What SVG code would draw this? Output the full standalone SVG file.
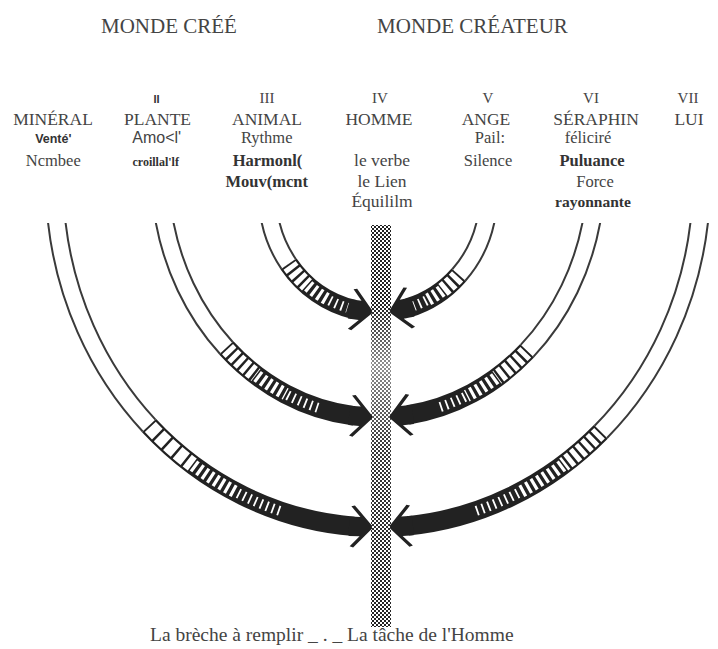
<svg xmlns="http://www.w3.org/2000/svg" xmlns:xlink="http://www.w3.org/1999/xlink" width="718" height="649" viewBox="0 0 718 649">
<style>
.t{font-family:"Liberation Serif","Times New Roman",serif;fill:#444;text-anchor:middle}
.s{font-family:"Liberation Sans",Arial,sans-serif;fill:#333;text-anchor:middle}
.h1{font-size:21px}
.num{font-size:15px}
.nm{font-size:17.5px}
.sm{font-size:16.5px}
.b{font-weight:bold;fill:#333}
.ln{fill:none;stroke:#3a3a3a;stroke-width:19.4}
.lw{fill:none;stroke:#fff;stroke-width:15.4}
.bd{fill:none;stroke:#222;stroke-width:19.4}
.sa{fill:none;stroke:#fff;stroke-width:15;stroke-dasharray:0 1.8 5 0.7}
.sg{fill:none;stroke:#fff;stroke-width:15;stroke-dasharray:0 1.8 10 0.7}
.sb{fill:none;stroke:#fff;stroke-width:12.5;stroke-dasharray:0 1.5 3.2 1.8}
.sc{fill:none;stroke:#fff;stroke-width:10;stroke-dasharray:0 2.2 1.8 2.2}
.hd{fill:#222}
</style>
<defs>
<pattern id="chk" width="4" height="4" patternUnits="userSpaceOnUse">
<rect width="4" height="4" fill="#fff"/>
<rect width="2" height="2" fill="#222"/>
<rect x="2" y="2" width="2" height="2" fill="#222"/>
</pattern>
<linearGradient id="lite" x1="0" y1="0" x2="0" y2="1">
<stop offset="0" stop-color="#fff" stop-opacity="0"/>
<stop offset="0.2" stop-color="#fff" stop-opacity="0"/>
<stop offset="0.35" stop-color="#fff" stop-opacity="0.5"/>
<stop offset="0.55" stop-color="#fff" stop-opacity="0.1"/>
<stop offset="1" stop-color="#fff" stop-opacity="0"/>
</linearGradient>
<clipPath id="top"><rect x="0" y="223" width="718" height="426"/></clipPath>
<path id="head" d="M0,-1.5 L-18,-21 L-21.5,-20 L-12,-9.7 L-23,-9.7 L-23,9.7 L-12,9.7 L-21.5,20 L-18,21 L0,1.5 Z"/>
<path id="iLt" d="M269.1,215 A110.5,117.3 0 0 0 288.6,263.9"/>
<path id="iRt" d="M486.9,215 A110.5,117.3 0 0 1 458.8,275.0"/>
<path id="mLt" d="M163.3,215 A218.4,247.3 0 0 0 226.3,347.9"/>
<path id="mRt" d="M592.7,215 A218.4,247.3 0 0 1 527.0,350.9"/>
<path id="oLt" d="M56.0,215 A323.7,347.3 0 0 0 149.1,425.6"/>
<path id="oRt" d="M700.0,215 A323.7,347.3 0 0 1 600.8,431.9"/>
</defs>
<rect width="718" height="649" fill="#fff"/>

<g id="titles">
<text class="t h1" x="169" y="33">MONDE CRÉÉ</text>
<text class="t h1" x="472.5" y="33">MONDE CRÉATEUR</text>
</g>

<g id="n1">
<text class="t nm" x="53" y="125">MINÉRAL</text>
<text class="s b" x="53.3" y="143" style="font-size:12.5px">Venté'</text>
<text class="t sm" x="53.3" y="166">Ncmbee</text>
</g>
<g id="n2">
<text class="s b" x="156.5" y="103" style="font-size:11px">II</text>
<text class="t nm" x="157.5" y="125">PLANTE</text>
<text class="s" x="156.7" y="143" style="font-size:16px;fill:#444">Amo&lt;l'</text>
<text class="t b" x="155.7" y="166" style="font-size:12px">croillal'lf</text>
</g>
<g id="n3">
<text class="t num" x="267" y="103">III</text>
<text class="t nm" x="267" y="125">ANIMAL</text>
<text class="t sm" x="266.7" y="143">Rythme</text>
<text class="t sm b" x="267.5" y="166">Harmonl(</text>
<text class="t sm b" x="266.7" y="186.5">Mouv(mcnt</text>
</g>
<g id="n4">
<text class="t num" x="380" y="103">IV</text>
<text class="t nm" x="379" y="125">HOMME</text>
<text class="t nm" x="382" y="166">le verbe</text>
<text class="t nm" x="382" y="186.5">le Lien</text>
<text class="t nm" x="382" y="206.5">Équililm</text>
</g>
<g id="n5">
<text class="t num" x="488" y="103">V</text>
<text class="t nm" x="486" y="125">ANGE</text>
<text class="t sm" x="490" y="143">Pail:</text>
<text class="t sm" x="488" y="166">Silence</text>
</g>
<g id="n6">
<text class="t num" x="591" y="103">VI</text>
<text class="t nm" x="596" y="125">SÉRAPHIN</text>
<text class="t sm" x="588" y="143">féliciré</text>
<text class="t sm b" x="592" y="166">Puluance</text>
<text class="t sm" x="595" y="186.5">Force</text>
<text class="t b" x="593" y="206.5" style="font-size:15.5px">rayonnante</text>
</g>
<g id="n7">
<text class="t num" x="688" y="103">VII</text>
<text class="t nm" x="689" y="125">LUI</text>
</g>

<g id="column">
<rect x="371" y="225" width="20" height="402" fill="url(#chk)"/>
<rect x="371" y="225" width="20" height="402" fill="url(#lite)"/>
</g>

<g id="connectors" clip-path="url(#top)">
<g id="inner-left">
<use xlink:href="#iLt" class="ln"/><use xlink:href="#iLt" class="lw"/>
<path class="bd" d="M288.6,263.9 A110.5,117.3 0 0 0 354.1,309.5"/>
<path class="sa" d="M288.6,263.9 A110.5,117.3 0 0 0 307.0,284.9"/>
<path class="sb" d="M307.0,284.9 A110.5,117.3 0 0 0 327.8,299.5"/>
<path class="sc" d="M327.8,299.5 A110.5,117.3 0 0 0 347.5,307.8"/>
<use xlink:href="#head" class="hd" transform="translate(372,312.1) rotate(8.2)"/>
</g>
<g id="inner-right">
<use xlink:href="#iRt" class="ln"/><use xlink:href="#iRt" class="lw"/>
<path class="bd" d="M458.8,275.0 A110.5,117.3 0 0 1 408.1,307.9"/>
<path class="sa" d="M458.8,275.0 A110.5,117.3 0 0 1 443.0,289.9"/>
<path class="sb" d="M443.0,289.9 A110.5,117.3 0 0 1 428.2,299.5"/>
<path class="sc" d="M428.2,299.5 A110.5,117.3 0 0 1 414.0,305.9"/>
<use xlink:href="#head" class="hd" transform="translate(390,311.6) scale(-1,1) rotate(11.6)"/>
</g>
<g id="middle-left">
<use xlink:href="#mLt" class="ln"/><use xlink:href="#mLt" class="lw"/>
<path class="bd" d="M226.3,347.9 A218.4,247.3 0 0 0 354.0,415.8"/>
<path class="sa" d="M226.3,347.9 A218.4,247.3 0 0 0 255.9,375.0"/>
<path class="sb" d="M255.9,375.0 A218.4,247.3 0 0 0 285.7,394.1"/>
<path class="sc" d="M285.7,394.1 A218.4,247.3 0 0 0 317.8,407.7"/>
<use xlink:href="#head" class="hd" transform="translate(372,417.2) rotate(4.4)"/>
</g>
<g id="middle-right">
<use xlink:href="#mRt" class="ln"/><use xlink:href="#mRt" class="lw"/>
<path class="bd" d="M527.0,350.9 A218.4,247.3 0 0 1 408.0,414.9"/>
<path class="sa" d="M527.0,350.9 A218.4,247.3 0 0 1 496.9,377.4"/>
<path class="sb" d="M496.9,377.4 A218.4,247.3 0 0 1 466.8,395.9"/>
<path class="sc" d="M466.8,395.9 A218.4,247.3 0 0 1 438.2,407.7"/>
<use xlink:href="#head" class="hd" transform="translate(390,416.9) scale(-1,1) rotate(6.3)"/>
</g>
<g id="outer-left">
<use xlink:href="#oLt" class="ln"/><use xlink:href="#oLt" class="lw"/>
<path class="bd" d="M149.1,425.6 A323.7,347.3 0 0 0 354.0,526.3"/>
<path class="sg" d="M149.1,425.6 A323.7,347.3 0 0 0 192.3,464.5"/>
<path class="sb" d="M192.3,464.5 A323.7,347.3 0 0 0 236.1,492.2"/>
<path class="sc" d="M236.1,492.2 A323.7,347.3 0 0 0 283.3,512.1"/>
<use xlink:href="#head" class="hd" transform="translate(372,527.2) rotate(2.5)"/>
</g>
<g id="outer-right">
<use xlink:href="#oRt" class="ln"/><use xlink:href="#oRt" class="lw"/>
<path class="bd" d="M600.8,431.9 A323.7,347.3 0 0 1 407.9,525.8"/>
<path class="sa" d="M600.8,431.9 A323.7,347.3 0 0 1 563.7,464.5"/>
<path class="sb" d="M563.7,464.5 A323.7,347.3 0 0 1 519.9,492.2"/>
<path class="sc" d="M519.9,492.2 A323.7,347.3 0 0 1 472.7,512.1"/>
<use xlink:href="#head" class="hd" transform="translate(390,527.1) scale(-1,1) rotate(4.1)"/>
</g>
</g>

<g id="caption">
<text class="t" x="150" y="641" style="font-size:19.5px;text-anchor:start">La brèche à remplir _ . _ La tâche de l'Homme</text>
</g>
</svg>
